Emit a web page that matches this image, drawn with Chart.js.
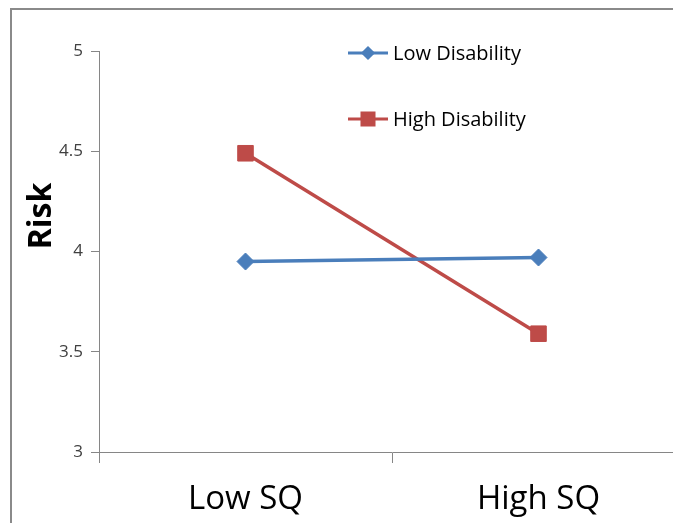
<!DOCTYPE html>
<html>
<head>
<meta charset="utf-8">
<script src="https://cdn.jsdelivr.net/npm/chart.js@4/dist/chart.umd.min.js"></script>
<style>
  html, body { margin: 0; padding: 0; background: #fff; overflow: hidden; }
  #wrap { width: 673px; height: 523px; overflow: hidden; position: relative; }
  canvas { display: block; }
</style>
</head>
<body>
<div id="wrap"><canvas id="c" width="700" height="523"></canvas></div>
<script>
// Interaction plot: risk by SQ level for low / high disability groups
const categories = ['Low SQ', 'High SQ'];
const lowDisability = [3.95, 3.97];
const highDisability = [4.49, 3.59];
const seriesNames = ['Low Disability', 'High Disability'];
const yTicks = [3, 3.5, 4, 4.5, 5];
const yTitle = 'Risk';

const FONT = "'Open Sans', 'Liberation Sans', sans-serif";
const AXIS_GRAY = '#868686';

// Outer frame (top and left edges of the chart box)
const framePlugin = {
  id: 'frame',
  beforeDraw(chart) {
    const ctx = chart.ctx;
    ctx.save();
    ctx.fillStyle = '#fff';
    ctx.fillRect(0, 0, chart.width, chart.height);
    ctx.strokeStyle = '#8a8a8a';
    ctx.lineWidth = 2;
    ctx.beginPath();
    ctx.moveTo(11, chart.height);
    ctx.lineTo(11, 9);
    ctx.lineTo(chart.width, 9);
    ctx.stroke();
    ctx.restore();
  }
};

// Rotated bold axis title
const titlePlugin = {
  id: 'yTitle',
  afterDraw(chart) {
    const ctx = chart.ctx;
    ctx.save();
    ctx.translate(42, 216);
    ctx.rotate(-Math.PI / 2);
    ctx.font = "bold 32px " + FONT;
    ctx.fillStyle = '#000';
    ctx.textAlign = 'center';
    ctx.textBaseline = 'middle';
    ctx.fillText(yTitle, 0, 0);
    ctx.restore();
  }
};

// Legend drawn inside the plot area, one row per series
const legendPlugin = {
  id: 'innerLegend',
  afterDraw(chart) {
    const ctx = chart.ctx;
    const rows = [53, 119];
    chart.data.datasets.forEach((ds, i) => {
      const y = rows[i];
      ctx.save();
      ctx.strokeStyle = ds.borderColor;
      ctx.lineWidth = 3;
      ctx.beginPath();
      ctx.moveTo(348, y);
      ctx.lineTo(388, y);
      ctx.stroke();
      ctx.fillStyle = ds.pointBackgroundColor;
      ctx.strokeStyle = ds.pointBorderColor;
      Chart.helpers.drawPoint(ctx, {
        pointStyle: ds.pointStyle,
        radius: ds.pointStyle === 'rect' ? 8.5 : 5,
        borderWidth: 1,
        rotation: 0
      }, 368, y);
      ctx.fillStyle = '#000';
      ctx.font = "20px " + FONT;
      ctx.textAlign = 'left';
      ctx.textBaseline = 'middle';
      ctx.fillText(ds.label, 393, y + 1);
      ctx.restore();
    });
  }
};

new Chart(document.getElementById('c'), {
  type: 'line',
  data: {
    labels: categories,
    datasets: [
      {
        label: seriesNames[0],
        data: lowDisability,
        borderColor: '#4A7EBB',
        backgroundColor: '#4A7EBB',
        pointBackgroundColor: '#4A7EBB',
        pointBorderColor: '#4A7EBB',
        pointStyle: 'rectRot',
        pointRadius: 8.5,
        pointBorderWidth: 1,
        borderWidth: 3.5,
        tension: 0
      },
      {
        label: seriesNames[1],
        data: highDisability,
        borderColor: '#BE4B48',
        backgroundColor: '#BE4B48',
        pointBackgroundColor: '#BE4B48',
        pointBorderColor: '#BE4B48',
        pointStyle: 'rect',
        pointRadius: 11,
        pointBorderWidth: 1,
        borderWidth: 3.5,
        tension: 0
      }
    ]
  },
  options: {
    responsive: false,
    animation: false,
    events: [],
    layout: { padding: { left: 0, top: 51, right: 15, bottom: 0 } },
    plugins: { legend: { display: false }, title: { display: false }, tooltip: { enabled: false } },
    scales: {
      x: {
        type: 'category',
        offset: true,
        grid: {
          display: true,
          drawOnChartArea: false,
          drawTicks: true,
          tickLength: 11,
          color: AXIS_GRAY,
          offset: true
        },
        border: { display: true, color: AXIS_GRAY, width: 1 },
        ticks: {
          color: '#000',
          font: { family: FONT, size: 33 },
          padding: 17,
          maxRotation: 0
        },
        afterFit(scale) { scale.height = 71; }
      },
      y: {
        min: 3,
        max: 5,
        afterBuildTicks(scale) { scale.ticks = yTicks.map(v => ({ value: v })); },
        grid: {
          display: true,
          drawOnChartArea: false,
          drawTicks: true,
          tickLength: 8,
          color: AXIS_GRAY
        },
        border: { display: true, color: AXIS_GRAY, width: 1 },
        ticks: {
          color: '#404040',
          font: { family: FONT, size: 17 },
          padding: 8,
          callback: v => String(v)
        },
        afterFit(scale) { scale.width = 99; }
      }
    }
  },
  plugins: [framePlugin, titlePlugin, legendPlugin]
});
</script>
</body>
</html>
